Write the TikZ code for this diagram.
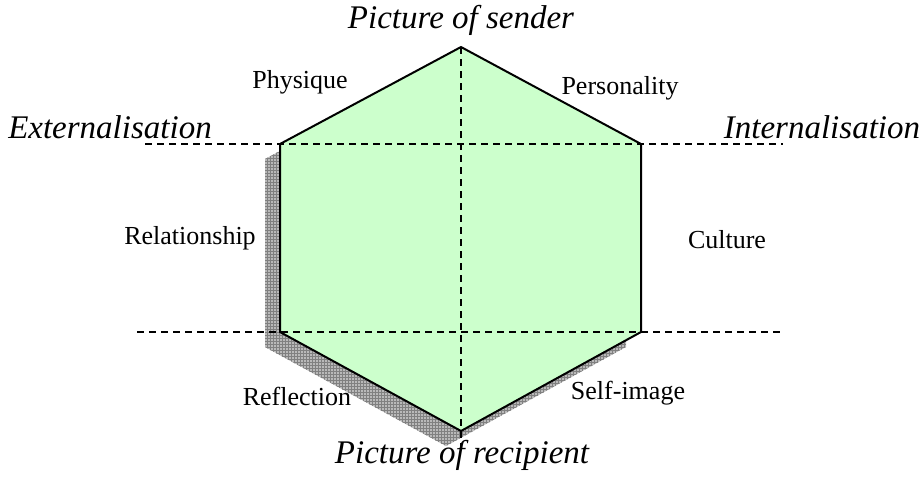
\documentclass[tikz,border=0pt]{standalone}
\usepackage{fontspec}
\setmainfont{Liberation Serif}
\usetikzlibrary{patterns}
\definecolor{hexgreen}{HTML}{CCFFCC}

\begin{document}
\begin{tikzpicture}[
        x=1pt, y=-1pt,
        hexagon/.style={draw=black, line width=2pt, fill=hexgreen, line join=miter},
        shadow/.style={preaction={fill=gray!55}, pattern=grid, pattern color=gray},
        axis/.style={draw=black, line width=1.3pt, dash pattern=on 7pt off 5pt},
        side/.style={font=\fontsize{26}{31}\selectfont},
        pole/.style={font=\fontsize{33}{39}\selectfont\itshape}
    ]
    \useasboundingbox (0,0) rectangle (922,488);

    % Corners of the hexagon
    \coordinate (top) at (461,47);
    \coordinate (ur) at (641,144);
    \coordinate (lr) at (641,332);
    \coordinate (bot) at (461,431);
    \coordinate (ll) at (280,332);
    \coordinate (ul) at (280,144);

    % Shadow and hexagon
    \path [shadow] ([xshift=-15pt,yshift=-15pt]top) -- ([xshift=-15pt,yshift=-15pt]ur)
        -- ([xshift=-15pt,yshift=-15pt]lr) -- ([xshift=-15pt,yshift=-15pt]bot)
        -- ([xshift=-15pt,yshift=-15pt]ll) -- ([xshift=-15pt,yshift=-15pt]ul) -- cycle;
    \path [hexagon] (top) -- (ur) -- (lr) -- (bot) -- (ll) -- (ul) -- cycle;

    % Ends of the dashed axes
    \coordinate (extl) at (145,144);
    \coordinate (extr) at (783,144);
    \coordinate (lowl) at (137,332);
    \coordinate (lowr) at (780,332);
    \coordinate (axisend) at (461,448);

    \draw [axis] (extl) -- (extr);
    \draw [axis] (lowl) -- (lowr);
    \draw [axis] (top) -- (axisend);

    % Poles
    \node [pole] (sender) at (461,20) {Picture of sender};
    \node [pole] (recipient) at (462,455) {Picture of recipient};
    \node [pole] (extern) at (110,127) {Externalisation};
    \node [pole] (intern) at (822,127) {Internalisation};

    % Sides
    \node [side] (physique) at (300,82) {Physique};
    \node [side] (personality) at (620,88) {Personality};
    \node [side] (relationship) at (190,238) {Relationship};
    \node [side] (culture) at (727,240) {Culture};
    \node [side] (reflection) at (297,396) {Reflection};
    \node [side] (selfimage) at (628,393) {Self-image};

\end{tikzpicture}
\end{document}
